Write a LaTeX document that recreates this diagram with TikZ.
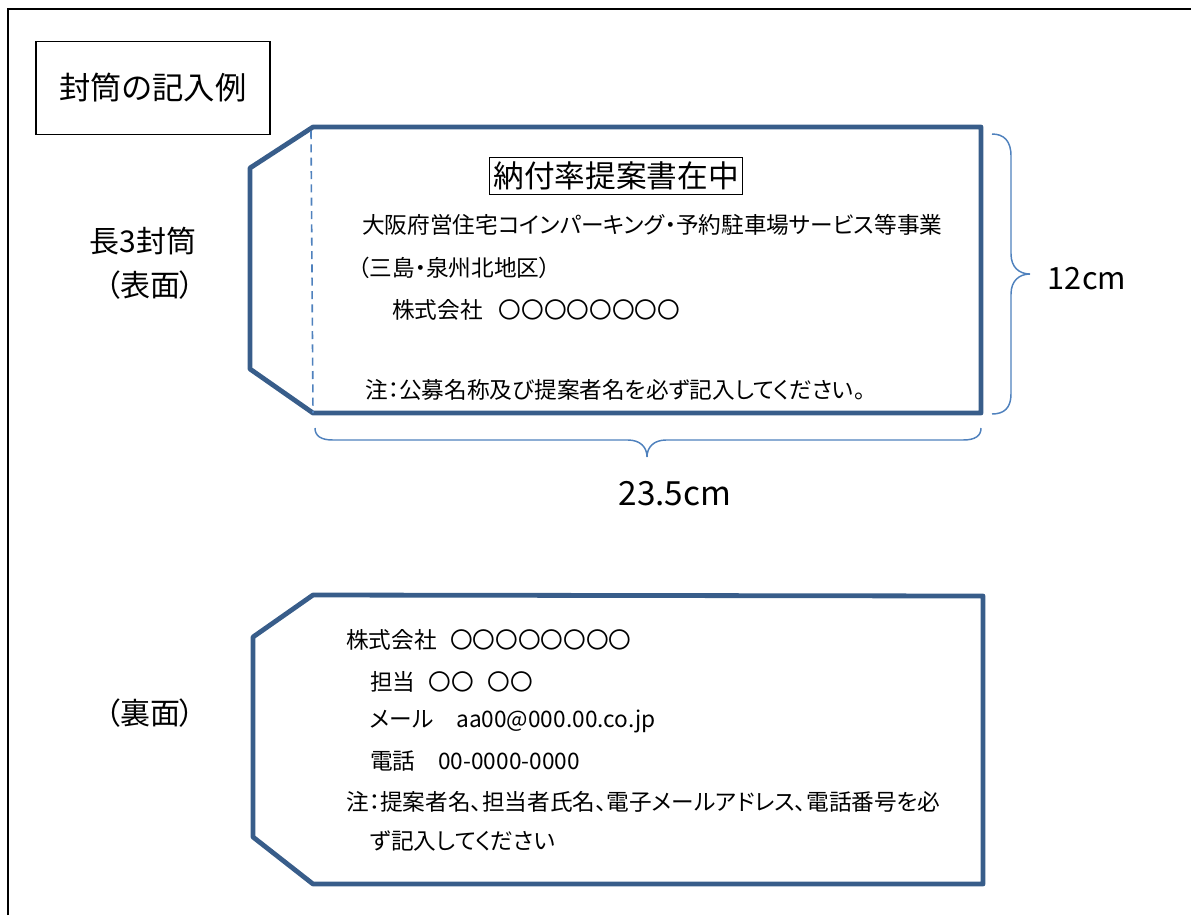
\documentclass[tikz,border=0pt]{standalone}
\usepackage{fontspec}
\setmainfont{Noto Sans CJK JP}[RawFeature=+palt]
\definecolor{envblue}{RGB}{56,93,138}
\definecolor{braceblue}{RGB}{79,129,189}
\begin{document}
\begin{tikzpicture}[x=0.75pt,y=-0.75pt,
  env/.style={draw=envblue,line width=3.6pt,line join=round},
  bracestyle/.style={draw=braceblue,line width=1.1pt},
  txt/.style={anchor=west,inner sep=0pt,font=\fontsize{17pt}{17pt}\selectfont},
  big/.style={inner sep=0pt,font=\fontsize{22.5pt}{22.5pt}\selectfont}]
\useasboundingbox (0,0) rectangle (1191,915);
\draw[line width=1pt] (8,915) -- (8,9) -- (1191,9);
% title
\node[draw,line width=0.8pt,minimum width=234*0.75pt,minimum height=93*0.75pt,inner sep=0pt,
  font=\fontsize{23.5pt}{23.5pt}\selectfont] (title) at (153,88) {封筒の記入例};
% front envelope
\draw[env] (313,127) -- (250,168) -- (250,369) -- (313,413) -- (981,413) -- (981,127) -- cycle;
\draw[draw=braceblue,line width=1.2pt,dash pattern=on 6pt off 4pt] (311,131) -- (313,413);
\node[draw,line width=0.8pt,inner sep=3pt,font=\fontsize{23pt}{23pt}\selectfont] (stamp) at (616,176) {納付率提案書在中};
\node[txt] (f1) at (362,225) {大阪府営住宅コインパーキング・予約駐車場サービス等事業};
\node[txt] (f2) at (358,268) {（三島・泉州北地区）};
\node[txt] (f3) at (392,310) {株式会社\hspace{12pt}〇〇〇〇〇〇〇〇};
\node[txt] (f4) at (365,390) {注：公募名称及び提案者名を必ず記入してください。};
% braces
\draw[bracestyle] (992,134) .. controls (1004,134) and (1011,141) .. (1011,156) -- (1011,254)
  .. controls (1011,267) and (1019,274) .. (1030,274)
  .. controls (1019,274) and (1011,281) .. (1011,294) -- (1011,394)
  .. controls (1011,408) and (1004,414) .. (992,414);
\draw[bracestyle] (315,428) .. controls (315,436) and (321,440) .. (333,440) -- (628,440)
  .. controls (640,440) and (647,447) .. (647,457)
  .. controls (647,447) and (654,440) .. (666,440) -- (963,440)
  .. controls (975,440) and (981,436) .. (981,428);
\node[big,font=\fontsize{23pt}{23pt}\selectfont] (h) at (1087,279) {12cm};
\node[big,font=\fontsize{25pt}{25pt}\selectfont] (w) at (675,494) {23.5cm};
% labels
\node[big] (l1) at (143,241) {長3封筒};
\node[big] (l2) at (150,285) {（表面）};
\node[big] (l3) at (150,713) {（裏面）};
% back envelope
\draw[env] (313,595) -- (253,637) -- (253,837) -- (313,884) -- (983,884) -- (983,596) -- cycle;
\node[txt] (b1) at (346,640) {株式会社\hspace{10pt}〇〇〇〇〇〇〇〇};
\node[txt] (b2) at (370,682) {担当\hspace{10pt}〇〇\hspace{10pt}〇〇};
\node[txt] (b3) at (370,721) {メール　aa00@000.00.co.jp};
\node[txt] (b4) at (370,761) {電話　00-0000-0000};
\node[txt] (b5) at (346,802) {注：提案者名、担当者氏名、電子メールアドレス、電話番号を必};
\node[txt] (b6) at (370,841) {ず記入してください};
\end{tikzpicture}
\end{document}
